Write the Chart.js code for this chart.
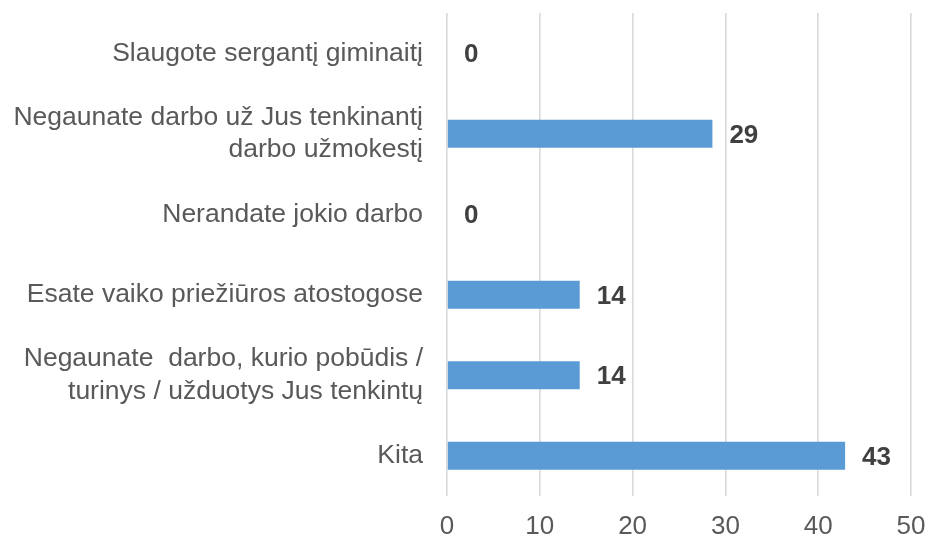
<html>
<head>
<meta charset="utf-8">
<title>Priežastys</title>
<script src="https://cdn.jsdelivr.net/npm/chart.js@4.4.0/dist/chart.umd.min.js"></script>
<style>
  body { margin: 0; background: #fff; }
</style>
</head>
<body>
<canvas id="bar_chart" width="928" height="539"></canvas>

<script>
  // categories, top to bottom
  var labels = [
    "Slaugote sergantį giminaitį",
    ["Negaunate darbo už Jus tenkinantį", "darbo užmokestį"],
    "Nerandate jokio darbo",
    "Esate vaiko priežiūros atostogose",
    ["Negaunate  darbo, kurio pobūdis /", "turinys / užduotys Jus tenkintų"],
    "Kita"
  ];
  // bar lengths (%)
  var values = [0, 28.6, 0, 14.3, 14.3, 42.9];
  var xTicks = [0, 10, 20, 30, 40, 50];

  var fontFamily = "'Liberation Sans', Arial, sans-serif";

  // value labels next to the bars
  var barLabels = {
    id: 'barLabels',
    afterDatasetsDraw(chart) {
      var ctx = chart.ctx;
      var meta = chart.getDatasetMeta(0);
      ctx.save();
      ctx.font = "bold 26px " + fontFamily;
      ctx.fillStyle = "#404040";
      ctx.textAlign = "left";
      ctx.textBaseline = "middle";
      meta.data.forEach(function(bar, i) {
        ctx.fillText(Math.round(values[i]), bar.x + 17, bar.y + 2);
      });
      ctx.restore();
    }
  };

  var ctx = document.getElementById("bar_chart").getContext("2d");
  var chart = new Chart(ctx, {
    type: 'bar',
    data: {
      labels: labels,
      datasets: [{
        data: values,
        backgroundColor: '#5B9BD5',
        borderWidth: 0,
        categoryPercentage: 1,
        barPercentage: 0.35
      }]
    },
    options: {
      indexAxis: 'y',
      animation: false,
      responsive: false,
      layout: { padding: { top: 13, right: 17, left: 0, bottom: 0 } },
      plugins: {
        legend: { display: false },
        tooltip: { enabled: false }
      },
      scales: {
        x: {
          min: 0,
          max: 50,
          afterBuildTicks: function(scale) {
            scale.ticks = xTicks.map(function(v) { return { value: v }; });
          },
          afterFit: function(scale) {
            scale.height = 43;
            scale.paddingLeft = 0;
            scale.paddingRight = 0;
          },
          border: { display: false },
          grid: { color: '#D9D9D9', lineWidth: 1.6, drawTicks: false },
          ticks: {
            padding: 15,
            color: '#595959',
            font: { family: fontFamily, size: 26 }
          }
        },
        y: {
          afterFit: function(scale) {
            scale.width = 447;
            scale.paddingTop = 0;
            scale.paddingBottom = 0;
          },
          border: { display: false },
          grid: { display: false, drawTicks: false },
          ticks: {
            padding: 24,
            color: '#595959',
            font: { family: fontFamily, size: 26.5, lineHeight: 1.22 }
          }
        }
      }
    },
    plugins: [barLabels]
  });
</script>
</body>
</html>
